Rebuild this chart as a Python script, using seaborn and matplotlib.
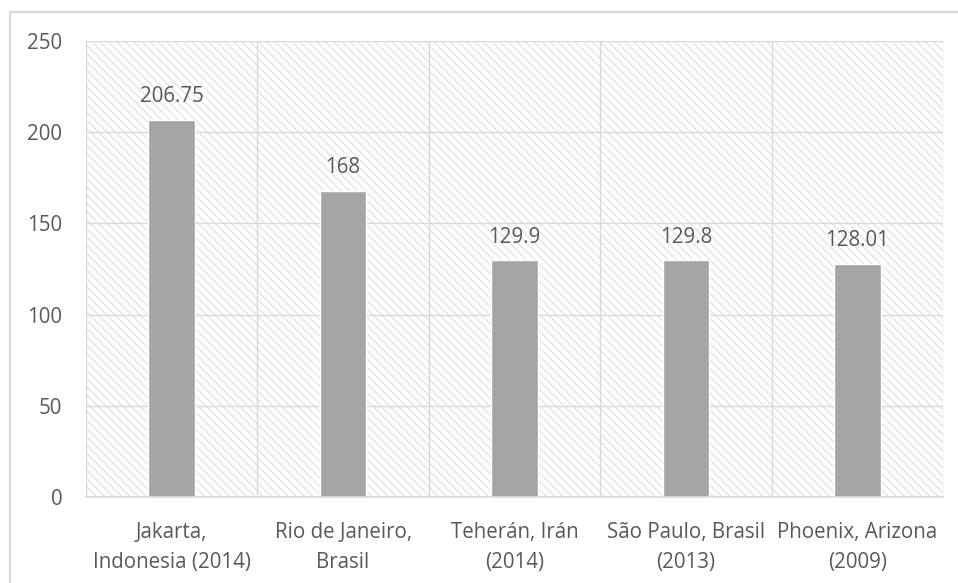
import matplotlib
matplotlib.use("Agg")
import matplotlib.pyplot as plt
import seaborn as sns
import pandas as pd
from matplotlib.patches import Rectangle

# ── Data ────────────────────────────────────────────────────────────────
cities = [
    "Jakarta,\nIndonesia (2014)",
    "Rio de Janeiro,\nBrasil",
    "Teherán, Irán\n(2014)",
    "São Paulo, Brasil\n(2013)",
    "Phoenix, Arizona\n(2009)",
]
values = [206.75, 168, 129.9, 129.8, 128.01]
value_labels = ["206.75", "168", "129.9", "129.8", "128.01"]
y_ticks = [0, 50, 100, 150, 200, 250]

# ── Style ───────────────────────────────────────────────────────────────
sns.set_style("white")
plt.rcParams["font.family"] = ["Open Sans", "DejaVu Sans"]
plt.rcParams["hatch.linewidth"] = 0.75
GRID = "#D9D9D9"
HATCH = "#DEDEDE"
TEXT = "#595959"
BAR = "#A5A5A5"
FS = 14.8

df = pd.DataFrame({"city": cities, "value": values})

fig = plt.figure(figsize=(9.58, 5.83), dpi=100)
ax = fig.add_axes([86 / 958, 1 - 497 / 583, (943 - 86) / 958, (497 - 41) / 583])

# fond hachuré de la zone de tracé
ax.add_patch(Rectangle((0, 0), 1, 1, transform=ax.transAxes, facecolor="white",
                       edgecolor=HATCH, hatch="\\\\\\\\", linewidth=0, zorder=0))

sns.barplot(data=df, x="city", y="value", color=BAR, width=0.272,
            saturation=1, ax=ax, zorder=3)

# grilles
for t in y_ticks[1:]:
    ax.axhline(t, color=GRID, linewidth=1, zorder=1)
for xb in [-0.5, 0.5, 1.5, 2.5, 3.5, 4.5]:
    ax.axvline(xb, color=GRID, linewidth=1, zorder=1)

ax.set_xlim(-0.5, 4.5)
ax.set_ylim(0, 250)
ax.set_yticks(y_ticks)
ax.set_xlabel("")
ax.set_ylabel("")

for side in ["top", "right", "left"]:
    ax.spines[side].set_visible(False)
ax.spines["bottom"].set_color(GRID)
ax.spines["bottom"].set_linewidth(1.2)
ax.spines["bottom"].set_zorder(4)

ax.tick_params(axis="y", length=0, pad=17, labelsize=FS, labelcolor=TEXT)
ax.tick_params(axis="x", length=0, pad=18, labelsize=FS, labelcolor=TEXT)
for lab in ax.get_xticklabels():
    lab.set_linespacing(1.55)

ax.bar_label(ax.containers[0], labels=value_labels, padding=9,
             fontsize=FS, color=TEXT)

# cadre extérieur du graphique
fig.add_artist(Rectangle((10 / 958, -0.1), 1.2, 1.1 - 12 / 583,
                         transform=fig.transFigure, fill=False,
                         edgecolor=GRID, linewidth=1.6))

fig.savefig("out.png", dpi=100)
